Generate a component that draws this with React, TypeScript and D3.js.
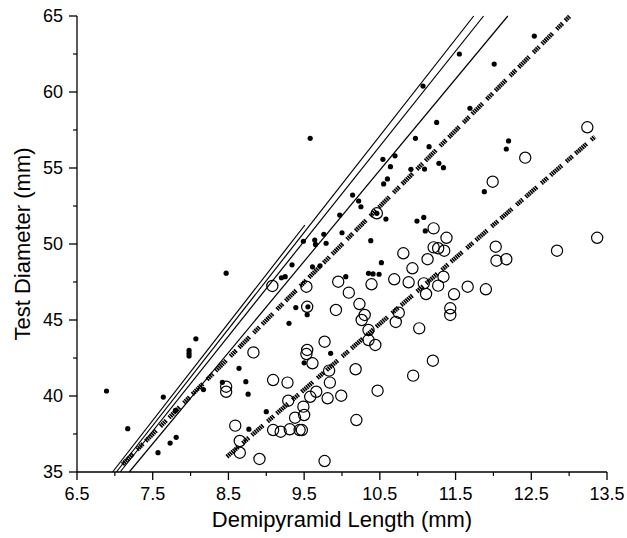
import React from "react";
import * as d3 from "d3";

const W = 627;
const H = 538;

const xTicks = [6.5, 7.5, 8.5, 9.5, 10.5, 11.5, 12.5, 13.5];
const xMinor = [7, 8, 9, 10, 11, 12, 13];
const yTicks = [35, 40, 45, 50, 55, 60, 65];
const yMinor = [37.5, 42.5, 47.5, 52.5, 57.5, 62.5];

const filledX = [6.89, 7.17, 7.64, 7.57, 7.73, 7.81, 7.8, 7.98, 7.98, 7.98, 8.07, 8.17, 8.47, 8.42, 8.64, 8.73, 8.76, 8.77, 9.0, 9.3, 9.39, 9.5, 9.54, 9.55, 9.34, 9.2, 9.25, 9.61, 9.71, 9.58, 9.49, 9.64, 9.65, 9.76, 9.79, 11.07, 11.55, 12.01, 12.54, 11.69, 11.25, 10.97, 11.15, 11.28, 11.34, 11.09, 10.91, 10.7, 10.54, 10.64, 10.6, 10.55, 10.14, 10.22, 10.25, 9.97, 10.46, 10.58, 10.0, 10.38, 10.99, 11.08, 11.1, 10.52, 12.2, 12.17, 11.88, 10.35, 10.41, 10.49, 10.05, 9.85];
const filledY = [40.33, 37.85, 39.93, 36.27, 36.9, 37.28, 39.05, 43.0, 42.8, 42.63, 43.76, 40.42, 48.08, 40.9, 41.82, 40.94, 40.12, 37.82, 38.97, 44.78, 45.82, 42.18, 45.35, 45.87, 48.63, 47.78, 47.85, 48.5, 48.57, 56.95, 50.18, 50.26, 49.97, 50.64, 50.05, 60.39, 62.5, 61.84, 63.68, 58.93, 58.0, 56.95, 56.4, 55.31, 55.02, 54.93, 54.91, 55.8, 55.57, 55.09, 54.28, 53.95, 53.22, 52.83, 52.45, 51.9, 52.02, 51.64, 50.74, 50.22, 51.51, 51.75, 50.86, 48.77, 56.78, 56.25, 53.44, 48.07, 48.03, 48.01, 47.85, 42.81];

const openX = [9.95, 10.09, 10.39, 10.69, 10.88, 10.93, 11.13, 11.08, 11.11, 11.27, 11.34, 11.48, 11.66, 11.9, 12.04, 12.17, 9.92, 10.23, 10.3, 10.26, 10.35, 10.35, 10.44, 10.75, 10.71, 11.02, 11.43, 11.43, 9.77, 9.54, 9.53, 9.61, 9.83, 10.18, 9.84, 11.2, 10.94, 9.66, 9.58, 9.81, 9.99, 10.47, 9.49, 9.5, 9.47, 10.19, 9.77, 9.08, 8.83, 8.47, 8.47, 9.09, 9.28, 8.59, 8.65, 8.65, 8.91, 9.09, 9.19, 9.31, 9.44, 9.29, 9.38, 9.53, 9.54, 13.24, 12.42, 11.99, 11.21, 11.38, 11.21, 11.27, 11.35, 10.81, 12.03, 12.84, 13.37, 10.46];
const openY = [47.52, 46.8, 47.35, 47.68, 47.48, 48.4, 49.0, 47.41, 46.71, 47.26, 47.85, 46.69, 47.19, 47.02, 48.9, 49.0, 45.66, 46.05, 45.33, 45.0, 44.34, 43.68, 43.36, 45.48, 44.87, 44.45, 45.77, 45.33, 43.57, 43.03, 42.76, 42.15, 41.67, 41.76, 40.88, 42.32, 41.34, 40.28, 39.95, 39.85, 40.02, 40.35, 39.3, 38.75, 37.76, 38.42, 35.72, 47.24, 42.87, 40.61, 40.28, 41.05, 40.88, 38.05, 37.04, 36.27, 35.86, 37.76, 37.65, 37.81, 37.76, 39.69, 38.57, 47.19, 45.87, 57.68, 55.68, 54.1, 51.03, 50.41, 49.78, 49.72, 49.56, 49.39, 49.82, 49.56, 50.41, 52.02];

// solid lines: [x0, y0, x1, y1]
const lineShort = [6.97, 35, 9.51, 51.25];
const line1 = [7.02, 35, 11.74, 65];
const line2 = [7.07, 35, 11.87, 65];
const line3 = [7.19, 35, 12.19, 65];
// hatched lines
const hatch1 = [7.1, 35.5, 13.01, 65];
const hatch2 = [8.48, 36.0, 13.34, 57.06];

const solidLines = [lineShort, line1, line2, line3];
const hatchLines = [hatch1, hatch2];

const FONT = "'Liberation Sans', Arial, Helvetica, sans-serif";

export default function App() {
  const x = d3.scaleLinear().domain([6.5, 13.5]).range([77, 607]);
  const y = d3.scaleLinear().domain([35, 65]).range([472, 16]);
  const lineGen = d3
    .line<number[]>()
    .x((d) => x(d[0]))
    .y((d) => y(d[1]));
  const seg = (l: number[]) => lineGen([
    [l[0], l[1]],
    [l[2], l[3]],
  ]) as string;

  const hatchDash = "1.6,0.6,1.6,0.6,1.6,0.6,1.6,0.6,1.6,0.6,1.6,0.6,1.6,6,1.6,0.6,1.6,0.6,1.6,0.6,1.6,4";

  return (
    <svg
      width={W}
      height={H}
      style={{ position: "absolute", left: 0, top: 0, background: "#fff" }}
      fontFamily={FONT}
    >
      <rect width={W} height={H} fill="#fff" />
      {/* axes */}
      <line x1={x(6.5)} x2={x(6.5)} y1={y(35)} y2={y(65)} stroke="#000" strokeWidth={1.3} />
      <line x1={x(6.5)} x2={x(13.5)} y1={y(35)} y2={y(35)} stroke="#000" strokeWidth={1.3} />
      {yTicks.map((t) => (
        <g key={"yt" + t}>
          <line x1={x(6.5) - 8} x2={x(6.5)} y1={y(t)} y2={y(t)} stroke="#000" strokeWidth={1.3} />
          <text x={x(6.5) - 14} y={y(t)} dy="0.36em" textAnchor="end" fontSize={18} fill="#000">
            {t}
          </text>
        </g>
      ))}
      {yMinor.map((t) => (
        <line key={"ym" + t} x1={x(6.5) - 4} x2={x(6.5)} y1={y(t)} y2={y(t)} stroke="#000" strokeWidth={1.2} />
      ))}
      {xTicks.map((t) => (
        <g key={"xt" + t}>
          <line x1={x(t)} x2={x(t)} y1={y(35)} y2={y(35) + 8} stroke="#000" strokeWidth={1.3} />
          <text x={x(t)} y={500} textAnchor="middle" fontSize={18} fill="#000">
            {d3.format(".1f")(t)}
          </text>
        </g>
      ))}
      {xMinor.map((t) => (
        <line key={"xm" + t} x1={x(t)} x2={x(t)} y1={y(35)} y2={y(35) + 4} stroke="#000" strokeWidth={1.2} />
      ))}
      <text x={(x(6.5) + x(13.5)) / 2} y={527} textAnchor="middle" fontSize={22} fill="#000">
        Demipyramid Length (mm)
      </text>
      <text
        transform={`translate(30, ${(y(35) + y(65)) / 2}) rotate(-90)`}
        textAnchor="middle"
        fontSize={22}
        fill="#000"
      >
        Test Diameter (mm)
      </text>

      {/* lines */}
      {solidLines.map((l, i) => (
        <path key={"sl" + i} d={seg(l)} fill="none" stroke="#000" strokeWidth={1.2} />
      ))}
      {hatchLines.map((l, i) => (
        <path key={"hl" + i} d={seg(l)} fill="none" stroke="#000" strokeWidth={4.5} strokeDasharray={hatchDash} />
      ))}

      {/* open circles */}
      {openX.map((v, i) => (
        <circle key={"o" + i} cx={x(v)} cy={y(openY[i])} r={5.6} fill="none" stroke="#000" strokeWidth={1.2} />
      ))}
      {/* filled dots */}
      {filledX.map((v, i) => (
        <circle key={"f" + i} cx={x(v)} cy={y(filledY[i])} r={2.6} fill="#000" />
      ))}
    </svg>
  );
}
